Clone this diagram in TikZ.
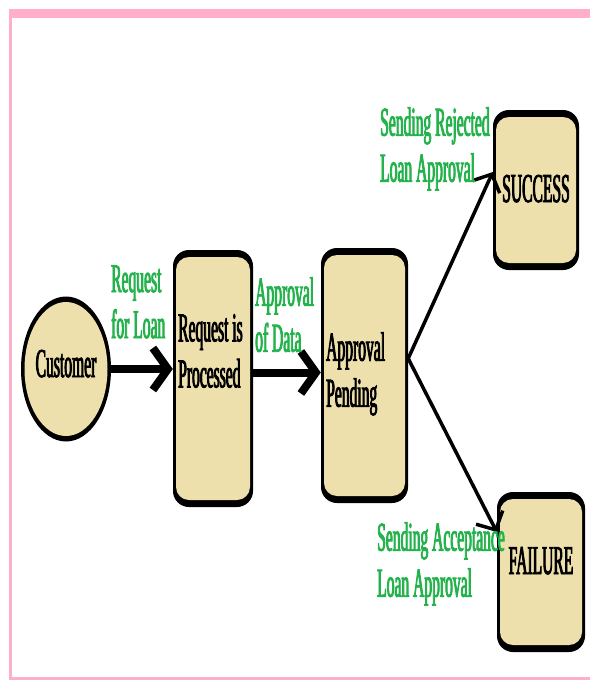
\documentclass[tikz,border=0pt]{standalone}
\usepackage{fontspec}
\setmainfont[FakeStretch=0.38,FakeBold=2]{Liberation Serif}
\usetikzlibrary{arrows.meta,shapes.geometric}
\definecolor{tanfill}{RGB}{237,224,172}
\definecolor{lblgreen}{RGB}{36,178,76}
\definecolor{framepink}{RGB}{255,176,200}
\begin{document}
\begin{tikzpicture}[x=1pt,y=-1pt,
  bigfont/.style={font=\fontsize{41}{46}\selectfont},
  statebox/.style={rectangle, rounded corners=16pt, fill=black, inner sep=0pt,
    path picture={\fill[tanfill, rounded corners=13pt]
      ([xshift=3pt,yshift=7pt]path picture bounding box.south west) rectangle
      ([xshift=-3pt,yshift=-7pt]path picture bounding box.north east);}},
  actor/.style={ellipse, fill=black, inner sep=0pt, minimum width=90pt, minimum height=145pt,
    path picture={\fill[tanfill] (path picture bounding box.center) ellipse [x radius=41.5pt, y radius=67pt];}},
  boxtext/.style={bigfont, text=black, inner sep=0pt, align=left},
  lbl/.style={bigfont, text=lblgreen, inner sep=0pt, align=left},
  bigarrow/.style={line width=8pt, -{Straight Barb[length=15pt,width=42pt]}},
  thinarrow/.style={line width=3.5pt, -{Straight Barb[length=14pt,width=30pt]}}
]
\useasboundingbox (0,0) rectangle (590,680);
\fill[white] (0,0) rectangle (590,680);
% frame
\fill[framepink] (9,9) rectangle (590,18);
\fill[framepink] (9,9) rectangle (12,680);
\fill[framepink] (9,677) rectangle (590,680);

% states
\node[actor, bigfont, text height=28pt, text depth=12pt] (cust) at (66,369) {Customer};
\node[statebox, minimum width=80pt, minimum height=257pt] (req) at (213,378.5) {};
\node[statebox, minimum width=87pt, minimum height=255pt] (app) at (364.5,375.5) {};
\node[statebox, minimum width=86pt, minimum height=160pt, bigfont, text height=28pt, text depth=4pt] (succ) at (536,190) {SUCCESS};
\node[statebox, minimum width=88pt, minimum height=160pt, bigfont, text height=28pt, text depth=24pt] (fail) at (541,572) {FAILURE};

% texts inside the tall boxes
\node[boxtext, anchor=north west] (reqtext) at (178,314) {Request is\\Processed};
\node[boxtext, anchor=north west] (apptext) at (326,332) {Approval\\Pending};

% connectors
\draw[bigarrow] (cust.east) -- (cust.east -| req.west);
\draw[bigarrow] ([yshift=6pt]req.east) -- ([yshift=6pt]req.east -| app.west);
\draw[thinarrow] ([yshift=17pt]app.east) -- ([yshift=18pt]succ.west);
\draw[thinarrow] ([yshift=17pt]app.east) -- ([yshift=40pt]fail.west);

% labels
\node[lbl, anchor=north west] (l1) at (111,265) {Request\\for Loan};
\node[lbl, anchor=north west] (l2) at (255,277) {Approval\\of Data};
\node[lbl, anchor=north west] (l3) at (380,107) {Sending Rejected\\Loan Approval};
\node[lbl, anchor=north west] (l4) at (377,522) {Sending Acceptance\\Loan Approval};
\end{tikzpicture}
\end{document}
